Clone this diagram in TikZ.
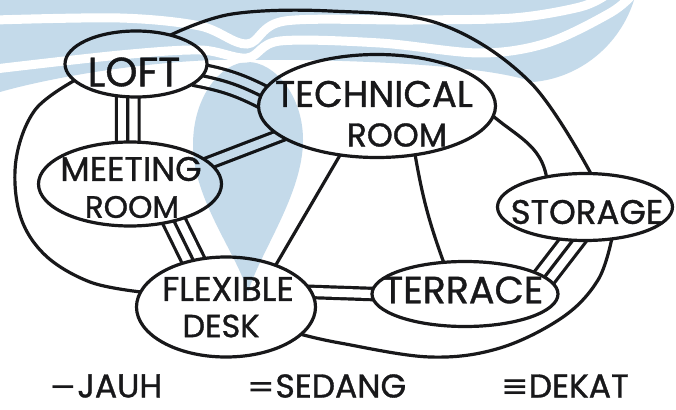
\documentclass[tikz,border=0pt]{standalone}
\usepackage{fontspec}
\setmainfont{Poppins}[FakeBold=1]
\newfontfamily\symfont{DejaVu Sans}
\usetikzlibrary{shapes.geometric}
\pgfdeclarelayer{paper}
\pgfdeclarelayer{links}
\pgfdeclarelayer{wash}
\pgfsetlayers{paper,links,main,wash}

\definecolor{ink}{RGB}{24,24,26}
\definecolor{washblue}{RGB}{196,218,234}

\tikzset{
  bubble/.style={ellipse, draw=ink, line width=3.2pt, fill=white, inner sep=0pt, outer sep=0pt},
  tag/.style={text=ink, inner sep=1pt, anchor=center},
  jauh/.style={draw=ink, line width=3.2pt, line cap=round},
  sedang/.style={draw=ink, line width=3.2pt, double=white, double distance=8.2pt,
    shorten <=-8pt, shorten >=-8pt},
  dekat/.style={draw=ink, line width=3.2pt, shorten <=-8pt, shorten >=-8pt,
    preaction={draw=ink, line width=3.2pt, double=white, double distance=19.4pt,
      shorten <=-8pt, shorten >=-8pt}},
}

\begin{document}
\begin{tikzpicture}[x=1pt,y=-1pt]
\useasboundingbox (0,0) rectangle (676,409);
\begin{pgfonlayer}{paper}
  \fill[white] (0,0) rectangle (676,409);
\end{pgfonlayer}

% rooms
\node[bubble, minimum width=142pt, minimum height=66pt]  (loft) at (136,64)  {};
\node[bubble, minimum width=237pt, minimum height=103pt] (tech) at (377,106) {};
\node[bubble, minimum width=183pt, minimum height=84pt]  (meet) at (130,184) {};
\node[bubble, minimum width=179pt, minimum height=100pt] (flex) at (226,307) {};
\node[bubble, minimum width=186pt, minimum height=65pt]  (terr) at (465,294) {};
\node[bubble, minimum width=175pt, minimum height=67pt]  (stor) at (585,207) {};

% room names
\node[tag, font=\fontsize{41}{41}\selectfont] (loft-t)  at (134,72)  {LOFT};
\node[tag, font=\fontsize{37}{37}\selectfont] (tech-t1) at (374,94)  {TECHNICAL};
\node[tag, font=\fontsize{33}{33}\selectfont] (tech-t2) at (397,135) {ROOM};
\node[tag, font=\fontsize{34}{34}\selectfont] (meet-t1) at (131,169) {MEETING};
\node[tag, font=\fontsize{31}{31}\selectfont] (meet-t2) at (132,207) {ROOM};
\node[tag, font=\fontsize{34}{34}\selectfont] (flex-t1) at (228,289) {FLEXIBLE};
\node[tag, font=\fontsize{32}{32}\selectfont] (flex-t2) at (221,326) {DESK};
\node[tag, font=\fontsize{38}{38}\selectfont] (terr-t)  at (463,290) {TERRACE};
\node[tag, font=\fontsize{34}{34}\selectfont] (stor-t)  at (587,212) {STORAGE};

% legend
\node[tag, font=\fontsize{33}{33}\selectfont] (key1) at (106,386) {{\symfont −}JAUH};
\node[tag, font=\fontsize{33}{33}\selectfont] (key2) at (327,386) {{\symfont =}SEDANG};
\node[tag, font=\fontsize{33}{33}\selectfont] (key3) at (565,386) {{\symfont ≡}DEKAT};

% connections
\begin{pgfonlayer}{links}
  \draw[dekat]  (loft.-10)  to[bend left=8] (tech.175);
  \draw[dekat]  (loft.-104) -- (meet.93);
  \draw[sedang] (meet.15)   -- (tech.197);
  \draw[dekat]  (meet.-40)  -- (flex.125);
  \draw[sedang] (flex.10)   -- (terr.180);
  \draw[dekat]  (terr.12)   -- (stor.-110);
  \draw[jauh] (tech.-127) -- (flex.40);
  \draw[jauh] (tech.-52) to[bend right=5] (terr.124);
  \draw[jauh] (tech.-5) to[out=-40,in=100] (stor.142);
  \draw[jauh] plot[smooth, tension=0.6] coordinates
    {(loft.40) (232,14) (330,11) (440,24) (530,82) (stor.80)};
  \draw[jauh] plot[smooth, tension=0.6] coordinates
    {(loft.195) (35,110) (16,160) (20,215) (45,255) (90,282) (flex.170)};
  \draw[jauh] plot[smooth, tension=0.6] coordinates
    {(flex.-20) (340,343) (430,357) (500,348) (563,317) (598,280) (stor.-50)};
\end{pgfonlayer}

% pale wave and drop emblem behind the drawing
\begin{pgfonlayer}{wash}
\begin{scope}[blend mode=multiply]
\begin{scope}[transparency group]
  \fill[washblue] (0,0) -- (634,0) .. controls (620,45) and (580,78) .. (533,82)
    .. controls (500,70) and (420,62) .. (300,60) -- (215,60)
    .. controls (150,62) and (60,75) .. (0,92) -- cycle;
  \fill[washblue] (248,293) .. controls (238,255) and (193,200) .. (193,145)
    .. controls (193,95) and (222,62) .. (248,62)
    .. controls (274,62) and (303,95) .. (303,140)
    .. controls (303,195) and (258,255) .. (248,293) -- cycle;
  \draw[white, line width=9pt] plot[smooth, tension=0.55] coordinates
    {(-5,20) (120,18) (200,26) (247,44) (285,21) (413,20) (513,18) (580,7) (606,-5)};
  \draw[white, line width=9pt] plot[smooth, tension=0.55] coordinates
    {(-5,69) (120,55) (200,50) (247,58) (280,41) (380,43) (480,53) (547,43) (610,13) (632,-5)};
\end{scope}
\end{scope}
\end{pgfonlayer}
\end{tikzpicture}
\end{document}
